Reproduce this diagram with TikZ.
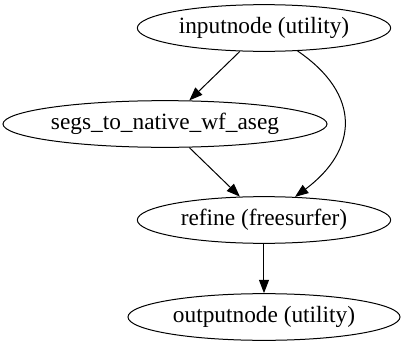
\documentclass[tikz,border=0pt]{standalone}
\usepackage{fontspec}
\setmainfont{Liberation Serif}
\usepackage{tikz}
\usetikzlibrary{arrows.meta, shapes.geometric}

\tikzset{
  wfnode/.style={draw, ellipse, line width=0.75pt, inner sep=0pt,
                 minimum height=35pt, font=\fontsize{17.5}{21}\selectfont},
  wfedge/.style={-{Triangle[length=10pt, width=7.5pt]}, line width=0.75pt},
}

\begin{document}
\begin{tikzpicture}[x=0.75pt, y=-0.75pt]

\useasboundingbox (0,0) rectangle (405,347);

% --- Nodes ---
\node[wfnode, minimum width=190pt] (inputnode) at (264,28) {inputnode (utility)};
\node[wfnode, minimum width=243pt] (segs) at (165,124) {segs\_to\_native\_wf\_aseg};
\node[wfnode, minimum width=190pt] (refine) at (264,220) {refine (freesurfer)};
\node[wfnode, minimum width=204pt] (outputnode) at (264,317) {outputnode (utility)};

% --- Edges ---
\draw[wfedge] (inputnode) -- (segs);
\draw[wfedge] (inputnode) .. controls (362,95) and (358,150) .. (refine);
\draw[wfedge] (segs) -- (refine);
\draw[wfedge] (refine) -- (outputnode);

\end{tikzpicture}
\end{document}
